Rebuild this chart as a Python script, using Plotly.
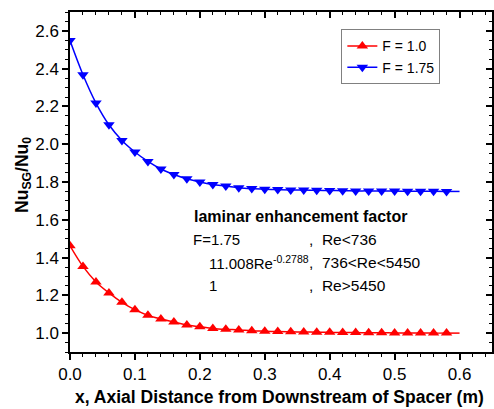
import plotly.graph_objects as go

# Data
x_vals = [round(0.02 * i, 2) for i in range(31)]  # 0.00 .. 0.60
nu_f100 = [1.462, 1.353, 1.271, 1.213, 1.163, 1.124, 1.094, 1.075, 1.059, 1.043,
           1.034, 1.025, 1.020, 1.017, 1.012, 1.010, 1.008, 1.007, 1.006, 1.005,
           1.004, 1.003, 1.003, 1.002, 1.002, 1.001, 1.001, 1.001, 1.000, 1.000, 1.000]
nu_f175 = [2.549, 2.368, 2.218, 2.103, 2.020, 1.959, 1.909, 1.869, 1.840, 1.817,
           1.800, 1.787, 1.779, 1.770, 1.765, 1.762, 1.760, 1.758, 1.757, 1.756,
           1.755, 1.754, 1.753, 1.753, 1.752, 1.752, 1.751, 1.751, 1.751, 1.750, 1.750]
series_names = ["F = 1.0", "F = 1.75"]
x_ticks = [0.0, 0.1, 0.2, 0.3, 0.4, 0.5, 0.6]
y_ticks = [1.0, 1.2, 1.4, 1.6, 1.8, 2.0, 2.2, 2.4, 2.6]

FONT = "Arial, Liberation Sans, sans-serif"
RED = "#FF0000"
BLUE = "#0000FF"

fig = go.Figure()

# line tails beyond last marker
fig.add_trace(go.Scatter(x=x_vals[-2:], y=nu_f100[-2:], mode="lines",
                         line=dict(color=RED, width=1.5), showlegend=False, hoverinfo="skip"))
fig.add_trace(go.Scatter(x=x_vals[-2:], y=nu_f175[-2:], mode="lines",
                         line=dict(color=BLUE, width=1.5), showlegend=False, hoverinfo="skip"))

fig.add_trace(go.Scatter(x=x_vals[:-1], y=nu_f100[:-1], mode="lines+markers", name=series_names[0],
                         line=dict(color=RED, width=1.5, shape="spline"),
                         marker=dict(symbol="triangle-up", size=10, color=RED)))
fig.add_trace(go.Scatter(x=x_vals[:-1], y=nu_f175[:-1], mode="lines+markers", name=series_names[1],
                         line=dict(color=BLUE, width=1.5, shape="spline"),
                         marker=dict(symbol="triangle-down", size=10, color=BLUE)))

# invisible trace for the mirrored (top/right) axes
fig.add_trace(go.Scatter(x=[None], y=[None], xaxis="x2", yaxis="y2", showlegend=False,
                         hoverinfo="skip"))

XR = [0, 0.65]
YR = [0.9, 2.7]

fig.update_layout(
    width=494, height=409,
    margin=dict(l=70, r=2, t=12, b=57, autoexpand=False),
    paper_bgcolor="white", plot_bgcolor="white",
    font=dict(family=FONT, color="black", size=15),
    showlegend=True,
    legend=dict(x=0.643, y=0.949, xanchor="left", yanchor="top",
                bordercolor="#808080", borderwidth=1, bgcolor="white",
                font=dict(family=FONT, size=14), tracegroupgap=0),
    xaxis=dict(range=XR, tickvals=x_ticks, ticktext=[f"{v:.1f}" for v in x_ticks], automargin=False,
               showgrid=False, zeroline=False, showline=True, linecolor="black", linewidth=1.5,
               ticks="outside", ticklen=6, tickwidth=1.5, tickcolor="black",
               minor=dict(ticks="outside", ticklen=3, tickwidth=1.2, dtick=0.02, tick0=0, tickcolor="black"),
               tickfont=dict(size=17)),
    yaxis=dict(range=YR, tickvals=y_ticks, ticktext=[f"{v:.1f}" for v in y_ticks], automargin=False,
               showgrid=False, zeroline=False, showline=True, linecolor="black", linewidth=1.5,
               ticks="outside", ticklen=6, tickwidth=1.5, tickcolor="black",
               minor=dict(ticks="outside", ticklen=3, tickwidth=1.2, dtick=0.05, tick0=0, tickcolor="black"),
               tickfont=dict(size=17)),
    xaxis2=dict(range=XR, overlaying="x", side="top", anchor="y", showgrid=False, zeroline=False,
                automargin=False,
                showline=True, linecolor="black", linewidth=1.5, showticklabels=False,
                tickvals=x_ticks, ticks="inside", ticklen=6, tickwidth=1.5, tickcolor="black",
                minor=dict(ticks="inside", ticklen=3, tickwidth=1.2, dtick=0.02, tick0=0, tickcolor="black")),
    yaxis2=dict(range=YR, overlaying="y", side="right", anchor="x", showgrid=False, zeroline=False,
                automargin=False,
                showline=True, linecolor="black", linewidth=1.5, showticklabels=False,
                tickvals=y_ticks, ticks="inside", ticklen=6, tickwidth=1.5, tickcolor="black",
                minor=dict(ticks="inside", ticklen=3, tickwidth=1.2, dtick=0.05, tick0=0, tickcolor="black")),
)

# axis titles
fig.add_annotation(text="<b>Nu<sub>SG</sub>/Nu<sub>0</sub></b>", textangle=-90,
                   xref="paper", yref="paper", x=-0.112, y=0.52, xanchor="center", yanchor="middle",
                   showarrow=False, font=dict(size=17.5))
fig.add_annotation(text="<b>x, Axial Distance from Downstream of Spacer (m)</b>",
                   xref="paper", yref="paper", x=0.4956, y=-0.132, xanchor="center", yanchor="middle",
                   showarrow=False, font=dict(size=17.5))

# text block
ann_x1 = 0.188
ann_x2 = 0.212
ann_xc = 0.366
fig.add_annotation(text="<b>laminar enhancement factor</b>", x=ann_x1, y=1.616, xref="x", yref="y",
                   xanchor="left", yanchor="middle", showarrow=False, font=dict(size=16))
lines_left = ["F=1.75", "11.008Re<sup>-0.2788</sup>", "1"]
lines_right = [",  Re<736", ",  736<Re<5450", ",  Re>5450"]
lines_y = [1.495, 1.373, 1.251]
lines_x = [ann_x1, ann_x2, ann_x2]
for lx, ly, lt, rt in zip(lines_x, lines_y, lines_left, lines_right):
    fig.add_annotation(text=lt, x=lx, y=ly, xref="x", yref="y", xanchor="left", yanchor="middle",
                       showarrow=False, font=dict(size=15), borderpad=0)
    fig.add_annotation(text=rt, x=ann_xc, y=ly, xref="x", yref="y", xanchor="left", yanchor="middle",
                       showarrow=False, font=dict(size=15.5), borderpad=0)

fig.write_html("out.html", config={"displayModeBar": False},
               post_script="document.body.style.margin='0px';document.body.style.padding='0px';")
